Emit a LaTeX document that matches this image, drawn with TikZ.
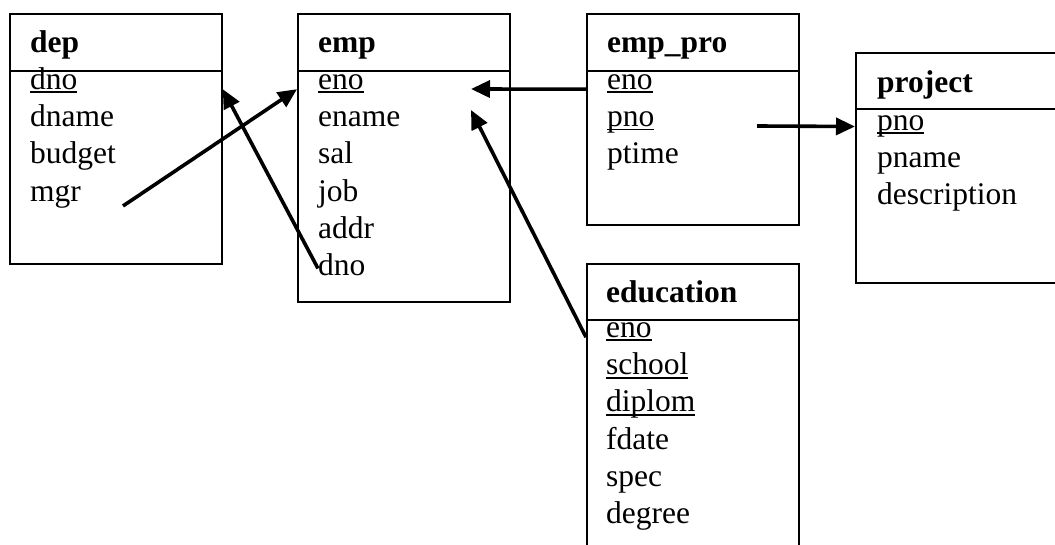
\documentclass[tikz,border=0pt]{standalone}
\usepackage{fontspec}
\setmainfont{Liberation Serif}
\usetikzlibrary{positioning,arrows.meta}

\newsavebox{\keybox}
\newcommand{\pkey}[1]{\sbox{\keybox}{#1}\rlap{\rule[-4pt]{\wd\keybox}{1.8pt}}#1}

\begin{document}
\begin{tikzpicture}[
      x=1pt, y=-1pt,
      node distance=8.4pt,
      every node/.style={font=\fontsize{31.5}{36}\selectfont},
      tbox/.style={draw, line width=1.8pt, anchor=north west, inner sep=0pt},
      hline/.style={line width=1.8pt},
      ttl/.style={anchor=base west, inner sep=0pt, font=\fontsize{31.5}{36}\selectfont\bfseries},
      fld/.style={anchor=north west, inner sep=0pt, text height=21.5pt, text depth=7pt},
      nextrow/.style={below=of #1.south west, anchor=north west},
      link/.style={line width=3.6pt, -{Triangle[length=19pt,width=17pt]}}
    ]
    \useasboundingbox (0,0) rectangle (1055,545);

    \node[tbox, minimum width=212pt, minimum height=250pt] (dep) at (9,13) {};
    \draw[hline] ([yshift=-58pt]dep.north west) -- ([yshift=-58pt]dep.north east);
    \node[ttl] (dep-title) at ([xshift=21pt,yshift=-40pt]dep.north west) {dep};
    \node[fld] (dep-dno) at ([xshift=21pt,yshift=-54.5pt]dep.north west) {\pkey{dno}};
    \node[fld, nextrow=dep-dno] (dep-dname) {dname};
    \node[fld, nextrow=dep-dname] (dep-budget) {budget};
    \node[fld, nextrow=dep-budget] (dep-mgr) {mgr};

    \node[tbox, minimum width=212pt, minimum height=288pt] (emp) at (297,13) {};
    \draw[hline] ([yshift=-58pt]emp.north west) -- ([yshift=-58pt]emp.north east);
    \node[ttl] (emp-title) at ([xshift=21pt,yshift=-40pt]emp.north west) {emp};
    \node[fld] (emp-eno) at ([xshift=21pt,yshift=-54.5pt]emp.north west) {\pkey{eno}};
    \node[fld, nextrow=emp-eno] (emp-ename) {ename};
    \node[fld, nextrow=emp-ename] (emp-sal) {sal};
    \node[fld, nextrow=emp-sal] (emp-job) {job};
    \node[fld, nextrow=emp-job] (emp-addr) {addr};
    \node[fld, nextrow=emp-addr] (emp-dno) {dno};

    \node[tbox, minimum width=212pt, minimum height=211pt] (emppro) at (586,13) {};
    \draw[hline] ([yshift=-58pt]emppro.north west) -- ([yshift=-58pt]emppro.north east);
    \node[ttl] (emppro-title) at ([xshift=21pt,yshift=-40pt]emppro.north west) {emp\_pro};
    \node[fld] (emppro-eno) at ([xshift=21pt,yshift=-54.5pt]emppro.north west) {\pkey{eno}};
    \node[fld, nextrow=emppro-eno] (emppro-pno) {\pkey{pno}};
    \node[fld, nextrow=emppro-pno] (emppro-ptime) {ptime};

    \node[tbox, minimum width=201pt, minimum height=230pt] (project) at (855,52) {};
    \draw[hline] ([yshift=-57pt]project.north west) -- ([yshift=-57pt]project.north east);
    \node[ttl] (project-title) at ([xshift=22pt,yshift=-41pt]project.north west) {project};
    \node[fld] (project-pno) at ([xshift=22pt,yshift=-56.5pt]project.north west) {\pkey{pno}};
    \node[fld, nextrow=project-pno] (project-pname) {pname};
    \node[fld, nextrow=project-pname] (project-descr) {description};

    \node[tbox, minimum width=212pt, minimum height=283pt] (education) at (586,263) {};
    \draw[hline] ([yshift=-57pt]education.north west) -- ([yshift=-57pt]education.north east);
    \node[ttl] (education-title) at ([xshift=20pt,yshift=-40pt]education.north west) {education};
    \node[fld] (education-eno) at ([xshift=20pt,yshift=-52.5pt]education.north west) {\pkey{eno}};
    \node[fld, nextrow=education-eno] (education-school) {\pkey{school}};
    \node[fld, nextrow=education-school] (education-diplom) {\pkey{diplom}};
    \node[fld, nextrow=education-diplom] (education-fdate) {fdate};
    \node[fld, nextrow=education-fdate] (education-spec) {spec};
    \node[fld, nextrow=education-spec] (education-degree) {degree};

    \coordinate (mgr-tail) at (123,206);
    \coordinate (pno-tail) at (757,126);
    \coordinate (eno-head) at (471,89);
    \coordinate (edu-head) at (471,110);

    \draw[link] (mgr-tail) -- (emp-eno.base -| emp.west);
    \draw[link] (emp-dno.west) -- (dep-dno.base -| dep.east);
    \draw[link] (emppro-eno.base -| emppro.west) -- (eno-head);
    \draw[link] (education.west |- education-eno.base) -- (edu-head);
    \draw[link] (pno-tail) -- (project.west |- emppro-pno.base);
    \end{tikzpicture}
\end{document}
